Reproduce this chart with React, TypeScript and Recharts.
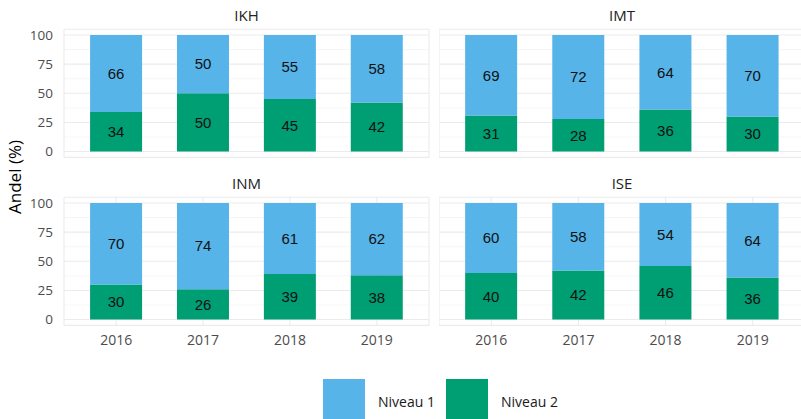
import React from 'react';
import { BarChart, Bar, XAxis, YAxis, CartesianGrid, LabelList } from 'recharts';

// categories and values
const years = ['2016', '2017', '2018', '2019'];
const institutes = ['IKH', 'IMT', 'INM', 'ISE'];

const niveau1IKH = [66, 50, 55, 58];
const niveau1IMT = [69, 72, 64, 70];
const niveau1INM = [70, 74, 61, 62];
const niveau1ISE = [60, 58, 54, 64];

const niveau2IKH = [34, 50, 45, 42];
const niveau2IMT = [31, 28, 36, 30];
const niveau2INM = [30, 26, 39, 38];
const niveau2ISE = [40, 42, 46, 36];

const majorTicks = [0, 25, 50, 75, 100];
const minorTicks = [12.5, 37.5, 62.5, 87.5];

const seriesNames = ['Niveau 1', 'Niveau 2'];
const seriesColors = ['#56B4E9', '#009E73'];

const niveau1: Record<string, number[]> = { IKH: niveau1IKH, IMT: niveau1IMT, INM: niveau1INM, ISE: niveau1ISE };
const niveau2: Record<string, number[]> = { IKH: niveau2IKH, IMT: niveau2IMT, INM: niveau2INM, ISE: niveau2ISE };

const SANS = '"Open Sans", "Noto Sans", sans-serif';
const PLOT_TOP = 29.2;
const PLOT_H = 128.2;
const ROW_OFFSET = 167.5;
const PAD = 8.7;

interface PanelProps {
    name: string;
    col: number;
    row: number;
}

const Panel: React.FC<PanelProps> = ({ name, col, row }) => {
    const data = years.map((year, i) => ({
        year,
        n1: niveau1[name][i],
        n2: niveau2[name][i],
    }));

    const showY = col === 0;
    const showX = row === 1;
    const width = col === 0 ? 430 : 366;
    // top row keeps a little room under the plot so the "0" tick is not clipped
    const xHeight = showX ? 30 : 8;
    const height = PLOT_TOP + PLOT_H + xHeight;

    return (
        <div style={{ position: 'absolute', left: col === 0 ? 0 : 439, top: row * ROW_OFFSET }}>
            <BarChart
                width={width}
                height={height}
                data={data}
                margin={{ top: PLOT_TOP, right: col === 0 ? 1 : 0, left: 0, bottom: 0 }}
                barCategoryGap="20%"
            >
                <CartesianGrid horizontalValues={minorTicks} vertical={false} stroke="#f2f2f2" strokeWidth={0.7} />
                <CartesianGrid stroke="#ebebeb" strokeWidth={1.1} />
                <XAxis
                    dataKey="year"
                    height={xHeight}
                    padding={{ left: PAD, right: PAD }}
                    axisLine={false}
                    tickLine={false}
                    tick={showX ? { fontSize: 14, fill: '#4d4d4d', fontFamily: SANS } : false}
                    tickSize={6}
                    tickMargin={4}
                    interval={0}
                />
                <YAxis
                    hide={!showY}
                    width={showY ? 64 : 0}
                    domain={[-5, 105]}
                    ticks={majorTicks}
                    allowDataOverflow
                    interval={0}
                    axisLine={false}
                    tickLine={false}
                    tick={{ fontSize: 13.5, fill: '#4d4d4d', fontFamily: SANS }}
                    tickSize={6}
                    tickMargin={5}
                />
                <Bar dataKey="n2" name={seriesNames[1]} stackId="a" fill={seriesColors[1]} isAnimationActive={false}>
                    <LabelList dataKey="n2" position="center" fill="#111" fontSize={15} fontFamily='"Liberation Sans", Arial, sans-serif' />
                </Bar>
                <Bar dataKey="n1" name={seriesNames[0]} stackId="a" fill={seriesColors[0]} isAnimationActive={false}>
                    <LabelList dataKey="n1" position="center" fill="#111" fontSize={15} fontFamily='"Liberation Sans", Arial, sans-serif' />
                </Bar>
            </BarChart>
        </div>
    );
};

export default function App() {
    return (
        <div style={{ position: 'absolute', left: 0, top: 0, width: 801, height: 419, overflow: 'hidden', background: '#fff' }}>
            {institutes.map((name, i) => (
                <Panel key={name} name={name} col={i % 2} row={Math.floor(i / 2)} />
            ))}

            {/* strip titles, axis title and legend */}
            <svg width={801} height={419} style={{ position: 'absolute', left: 0, top: 0, pointerEvents: 'none' }}>
                {institutes.map((name, i) => (
                    <text
                        key={name}
                        x={i % 2 === 0 ? 246.5 : 622}
                        y={21 + Math.floor(i / 2) * ROW_OFFSET}
                        textAnchor="middle"
                        fontSize={15}
                        fontFamily={SANS}
                        fill="#222"
                    >
                        {name}
                    </text>
                ))}
                <text
                    x={20.5}
                    y={177}
                    transform="rotate(-90, 20.5, 177)"
                    textAnchor="middle"
                    fontSize={17}
                    fontFamily={SANS}
                    fill="#000"
                >
                    Andel (%)
                </text>
                {seriesNames.map((s, i) => (
                    <g key={s}>
                        <rect x={323 + i * 123} y={379} width={42} height={42} fill={seriesColors[i]} />
                        <text x={378 + i * 123} y={407} fontSize={14} fontFamily={SANS} fill="#1a1a1a">
                            {s}
                        </text>
                    </g>
                ))}
            </svg>
        </div>
    );
}
